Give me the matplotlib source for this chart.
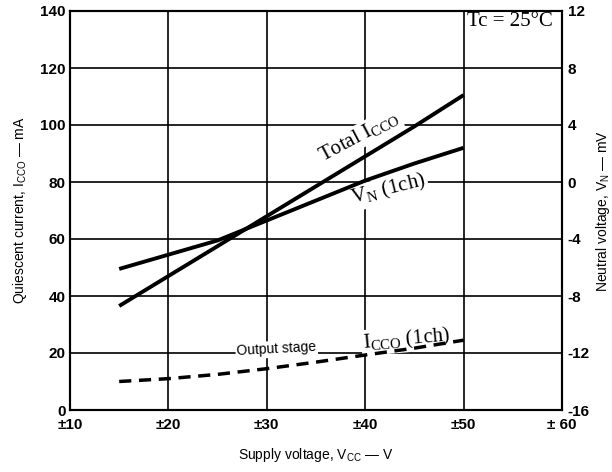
import matplotlib
matplotlib.use("Agg")
import matplotlib.pyplot as plt

plt.rcParams['mathtext.fontset'] = 'custom'
plt.rcParams['mathtext.rm'] = 'Liberation Serif'
plt.rcParams['mathtext.sf'] = 'Liberation Sans'
plt.rcParams['font.family'] = ['Liberation Sans', 'DejaVu Sans']

vcc = [15, 20, 25, 30, 35, 40, 45, 50]
total_icco = [36.5, 47, 57.5, 68, 78.5, 89, 99.5, 110.5]
vn_mv = [-6.1, -5.1, -4.1, -2.7, -1.3, 0.1, 1.3, 2.4]
icco_1ch = [10, 11, 12.5, 14.5, 16.8, 19.3, 21.7, 24.5]

x_ticks = [10, 20, 30, 40, 50, 60]
x_labels = ['±10', '±20', '±30', '±40', '±50', '± 60']
y_ticks = [0, 20, 40, 60, 80, 100, 120, 140]
y2_ticks = [-16, -12, -8, -4, 0, 4, 8, 12]

fig = plt.figure(figsize=(6.12, 4.72), dpi=100)
ax = fig.add_axes([70/612, 62/472, 492/612, 399/472])
ax.set_xlim(10, 60)
ax.set_ylim(0, 140)
ax2 = ax.twinx()
ax2.set_ylim(-16, 12)

for v in [20, 30, 40, 50]:
    ax.axvline(v, color='black', lw=1.2, zorder=1)
for h in [20, 40, 60, 80, 100, 120]:
    ax.axhline(h, color='black', lw=1.2, zorder=1)

ax.plot(vcc, total_icco, color='black', lw=2.8, solid_capstyle='butt', zorder=3)
ax.plot(vcc, icco_1ch, color='black', lw=2.5, ls=(0, (3.5, 2.2)), zorder=3)
ax2.plot(vcc, vn_mv, color='black', lw=2.8, solid_capstyle='butt', zorder=3)

for a in (ax, ax2):
    for s in a.spines.values():
        s.set_linewidth(1.5)

ax.set_xticks(x_ticks)
ax.set_xticklabels(x_labels, fontsize=11, fontweight='bold')
ax.set_yticks(y_ticks)
ax.set_yticklabels([str(t) for t in y_ticks], fontsize=11, fontweight='bold')
ax2.set_yticks(y2_ticks)
ax2.set_yticklabels([str(t) for t in y2_ticks], fontsize=11, fontweight='bold')
ax.tick_params(axis='x', length=0, pad=6)
ax.tick_params(axis='y', length=0, pad=3)
ax2.tick_params(axis='y', length=0, pad=4)

ax.set_xlabel(r'Supply voltage, $\mathsf{V_{CC}}$ — V', fontsize=10, labelpad=10)
ax.set_ylabel(r'Quiescent current, $\mathsf{I_{CCO}}$ — mA', fontsize=10, labelpad=8)
ax2.set_ylabel(r'Neutral voltage, $\mathsf{V_N}$ — mV', fontsize=10, labelpad=3)

bb = dict(facecolor='white', edgecolor='none', pad=1)
ax.text(39.4, 96, r'Total $\mathrm{I_{CCO}}$', family='Liberation Serif', fontsize=15,
        rotation=28, ha='center', va='center', bbox=bb, zorder=2)
ax.text(42.4, 77.2, r'$\mathrm{V_N}$ (1ch)', family='Liberation Serif', fontsize=15,
        rotation=14, ha='center', va='center', bbox=bb, zorder=2)
ax.text(44.2, 24.8, r'$\mathrm{I_{CCO}}$ (1ch)', family='Liberation Serif', fontsize=15,
        rotation=5, ha='center', va='center', bbox=bb, zorder=2)
ax.text(31.0, 21.3, 'Output stage', fontsize=10, rotation=3, ha='center', va='center',
        bbox=bb, zorder=2)
ax.text(54.75, 136.3, 'Tc = 25°C', family='Liberation Serif', fontsize=15,
        ha='center', va='center', bbox=dict(facecolor='white', edgecolor='none', pad=1), zorder=4)

fig.savefig('out.png', dpi=100)
